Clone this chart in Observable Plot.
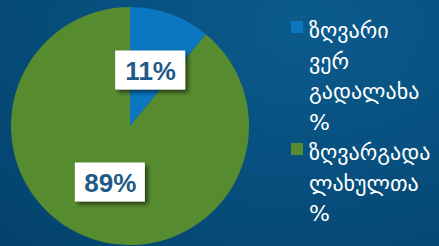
<!DOCTYPE html>
<html>
<head>
<meta charset="utf-8">
<script src="https://cdn.jsdelivr.net/npm/d3@7"></script>
<script src="https://cdn.jsdelivr.net/npm/@observablehq/plot@0.6"></script>
<style>
  html, body { margin: 0; padding: 0; width: 439px; height: 246px; overflow: hidden;
    background: radial-gradient(ellipse at 70% 10%, #0b5b8d 0%, #07507f 45%, #04426c 100%); }
  svg { display: block; }
</style>
</head>
<body>
<div id="chart"></div>
<script>
const categories = ["ზღვარი ვერ გადალახა %", "ზღვარგადალახულთა %"];
const values = [11, 89];
const valueLabels = ["11%", "89%"];
const legendLines = [["ზღვარი", "ვერ", "გადალახა", "%"], ["ზღვარგადა", "ლახულთა", "%"]];
const colors = ["#0a77c0", "#568c2f"];

const data = categories.map((c, i) => ({category: c, value: values[i], label: valueLabels[i]}));
const arcs = d3.pie().sort(null).value(d => d.value)(data);
const labelData = arcs.map(a => {
  const mid = (a.startAngle + a.endAngle) / 2;
  return {label: a.data.label, x: 0.5 * Math.sin(mid), y: 0.5 * Math.cos(mid)};
});
const colorFallback = d3.scaleOrdinal(categories, colors);

function pieMark(index, scales) {
  const color = scales.color || colorFallback;
  const cx = scales.x(0), cy = scales.y(0), r = scales.x(1) - scales.x(0);
  const g = d3.create("svg:g").attr("transform", `translate(${cx},${cy})`);
  const arc = d3.arc().innerRadius(0).outerRadius(r);
  g.selectAll("path").data(arcs).join("path")
    .attr("d", arc).attr("fill", d => color(d.data.category));
  return g.node();
}

function boxMark(index, scales) {
  const g = d3.create("svg:g");
  const defs = g.append("defs");
  const f = defs.append("filter").attr("id", "shadow").attr("x", "-20%").attr("y", "-20%").attr("width", "150%").attr("height", "160%");
  f.append("feDropShadow").attr("dx", 3).attr("dy", 3).attr("stdDeviation", 2)
    .attr("flood-color", "#000").attr("flood-opacity", 0.55);
  const w = 70, h = 39;
  g.selectAll("rect").data(labelData).join("rect")
    .attr("x", d => scales.x(d.x) - w / 2)
    .attr("y", d => scales.y(d.y) - h / 2)
    .attr("width", w).attr("height", h)
    .attr("fill", "#ffffff").attr("filter", "url(#shadow)");
  return g.node();
}

function legendMark(index, scales) {
  const color = scales.color || colorFallback;
  const g = d3.create("svg:g").attr("text-anchor", "start");
  const x0 = 291, lineH = 30.5;
  let baseline = 38;
  legendLines.forEach((lines, i) => {
    g.append("rect").attr("x", x0).attr("y", baseline - 17).attr("width", 12).attr("height", 12)
      .attr("fill", color(categories[i]));
    lines.forEach(t => {
      g.append("text").attr("x", x0 + 18).attr("y", baseline)
        .attr("text-anchor", "start")
        .attr("fill", "#ffffff").attr("font-family", "DejaVu Sans, sans-serif")
        .attr("font-size", 22).text(t);
      baseline += lineH;
    });
  });
  return g.node();
}

const chart = Plot.plot({
  width: 439,
  height: 246,
  marginLeft: 11,
  marginRight: 190,
  marginTop: 7,
  marginBottom: 1,
  style: {background: "transparent", overflow: "visible"},
  x: {domain: [-1, 1], axis: null},
  y: {domain: [-1, 1], axis: null},
  color: {domain: categories, range: colors},
  marks: [
    pieMark,
    boxMark,
    Plot.text(labelData, {
      x: "x", y: "y", text: "label",
      fill: "#1f5b86", fontSize: 26, fontWeight: "bold",
      fontFamily: "Liberation Sans, Arial, sans-serif", dy: 1
    }),
    legendMark
  ]
});
document.getElementById("chart").append(chart);
</script>
</body>
</html>
